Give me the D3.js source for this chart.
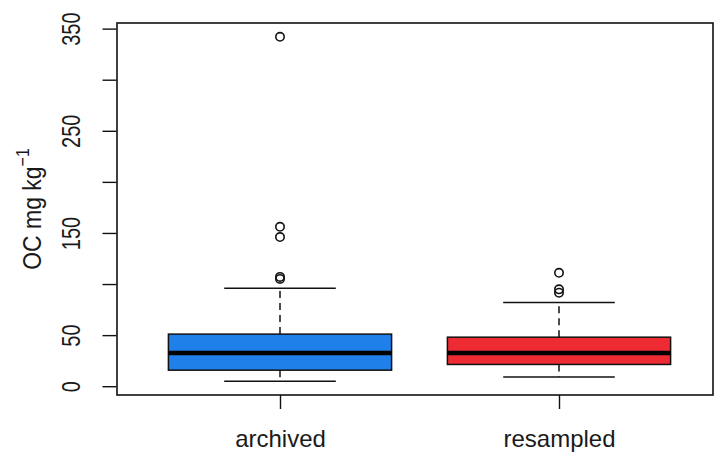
<!DOCTYPE html>
<html>
<head>
<meta charset="utf-8">
<script src="https://cdn.jsdelivr.net/npm/d3@7"></script>
<style>
  html, body { margin: 0; padding: 0; background: #fff; }
  svg { display: block; }
  text { font-family: "Liberation Sans", Arial, sans-serif; fill: #1a1a1a; }
</style>
</head>
<body>
<svg id="chart" width="716" height="456"></svg>
<script>
// ---- data ----
const categories   = ["archived", "resampled"];
const whiskerLow   = [4.9, 9.1];
const q1           = [15.7, 21.3];
const medians      = [32.6, 32.6];
const q3           = [51, 48];
const whiskerHigh  = [96, 82];
const outliers     = [[342, 156, 146, 107, 105], [111, 94.8, 91.5]];
const fills        = ["#1f80ea", "#ee2a33"];
const yTicks       = [0, 50, 100, 150, 200, 250, 300, 350];
const yTickLabels  = ["0", "50", "", "150", "", "250", "", "350"];

// ---- layout ----
const svg = d3.select("#chart");
const frame = { left: 117, right: 713, top: 23, bottom: 395 };

const y = d3.scaleLinear().domain([-8.6, 355.5]).range([frame.bottom, frame.top]);
const x = d3.scaleLinear().domain([0, 1]).range([280, 559]);
const step = x(1) - x(0);
const boxW = step * 0.8;
const capW = boxW * 0.5;

// frame
svg.append("rect")
  .attr("x", frame.left).attr("y", frame.top)
  .attr("width", frame.right - frame.left).attr("height", frame.bottom - frame.top)
  .attr("fill", "none").attr("stroke", "#111").attr("stroke-width", 1.6);

// y axis
const yAxis = d3.axisLeft(y).tickValues(yTicks).tickSize(14)
  .tickFormat((d, i) => yTickLabels[i]);
const gy = svg.append("g").attr("transform", `translate(${frame.left - 0.5},0)`).call(yAxis);
gy.select(".domain").remove();
gy.selectAll(".tick line").attr("stroke", "#111").attr("stroke-width", 1.4);
gy.selectAll(".tick text")
  .attr("font-size", 20)
  .attr("fill", "#1a1a1a")
  .attr("x", 0).attr("y", 0).attr("dy", "0.36em")
  .attr("text-anchor", "middle")
  .attr("transform", `translate(${71 - (frame.left - 0.5)},0) scale(1.25,1) rotate(-90)`);

// x axis
const xAxis = d3.axisBottom(x).tickValues([0, 1]).tickSize(14)
  .tickFormat((d) => categories[d]);
const gx = svg.append("g").attr("transform", `translate(0,${frame.bottom})`).call(xAxis);
gx.select(".domain").remove();
gx.selectAll(".tick line").attr("stroke", "#111").attr("stroke-width", 1.4);
gx.selectAll(".tick text").attr("font-size", 24).attr("fill", "#1a1a1a").attr("y", 35).attr("dy", "0.71em");

// y title
const title = svg.append("text")
  .attr("transform", `translate(31,209) scale(1.15,1) rotate(-90)`)
  .attr("text-anchor", "middle")
  .attr("dy", "0.36em")
  .attr("font-size", 23);
title.append("tspan").text("OC mg kg");
title.append("tspan").attr("font-size", 16).attr("dy", -10).text("−1");

// boxes
const g = svg.append("g");
categories.forEach((c, i) => {
  const cx = x(i);
  // whiskers (dashed)
  g.append("line").attr("x1", cx).attr("x2", cx).attr("y1", y(q3[i])).attr("y2", y(whiskerHigh[i]))
    .attr("stroke", "#111").attr("stroke-width", 1.5).attr("stroke-dasharray", "7,5");
  g.append("line").attr("x1", cx).attr("x2", cx).attr("y1", y(q1[i])).attr("y2", y(whiskerLow[i]))
    .attr("stroke", "#111").attr("stroke-width", 1.5).attr("stroke-dasharray", "7,5");
  // caps
  [whiskerHigh[i], whiskerLow[i]].forEach(v => {
    g.append("line").attr("x1", cx - capW / 2).attr("x2", cx + capW / 2).attr("y1", y(v)).attr("y2", y(v))
      .attr("stroke", "#111").attr("stroke-width", 1.5);
  });
  // box
  g.append("rect").attr("x", cx - boxW / 2).attr("width", boxW)
    .attr("y", y(q3[i])).attr("height", y(q1[i]) - y(q3[i]))
    .attr("fill", fills[i]).attr("stroke", "#111").attr("stroke-width", 1.5);
  // median
  g.append("line").attr("x1", cx - boxW / 2).attr("x2", cx + boxW / 2)
    .attr("y1", y(medians[i])).attr("y2", y(medians[i]))
    .attr("stroke", "#000").attr("stroke-width", 4.5);
  // outliers
  outliers[i].forEach(v => {
    g.append("circle").attr("cx", cx).attr("cy", y(v)).attr("r", 4.2)
      .attr("fill", "none").attr("stroke", "#111").attr("stroke-width", 1.6);
  });
});
</script>
</body>
</html>
